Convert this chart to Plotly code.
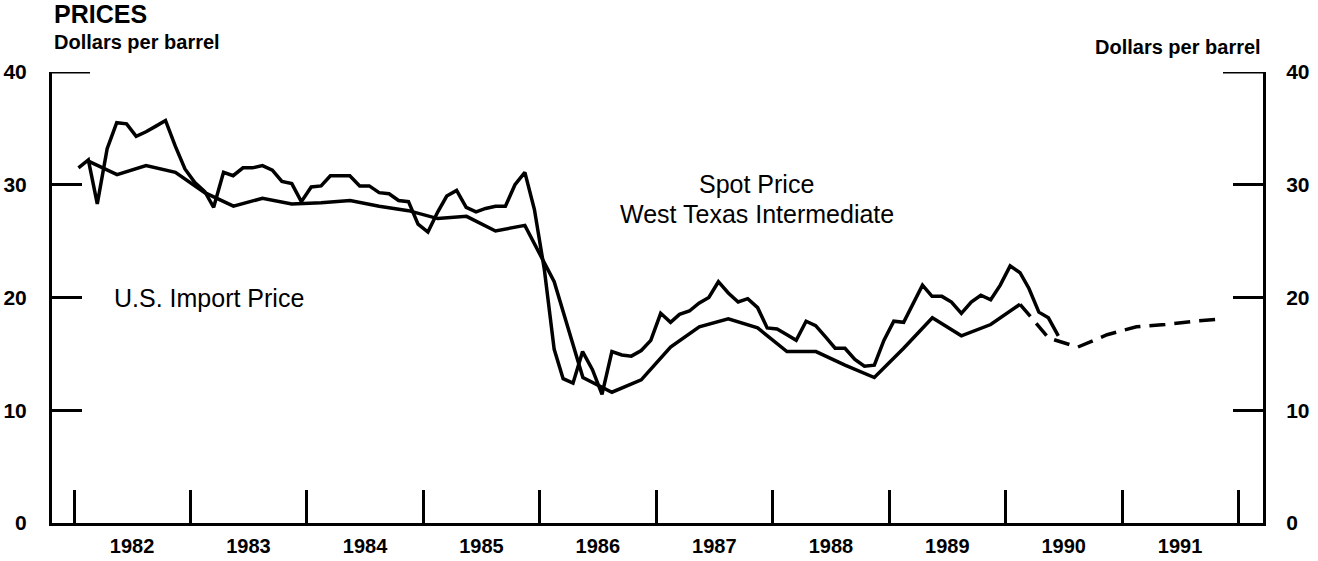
import pandas as pd
import plotly.graph_objects as go

# Monthly spot price, West Texas Intermediate, Jan 1982 - Jun 1990 (dollars per barrel)
spot_start = "1982-01"
spot_values = [
    31.5, 32.2, 28.3, 33.2, 35.5, 35.4, 34.3, 34.7, 35.2, 35.7, 33.4, 31.4,   # 1982
    30.2, 29.4, 28.0, 31.1, 30.8, 31.5, 31.5, 31.7, 31.3, 30.3, 30.1, 28.5,   # 1983
    29.8, 29.9, 30.8, 30.8, 30.8, 29.9, 29.9, 29.3, 29.2, 28.6, 28.5, 26.5,   # 1984
    25.8, 27.6, 29.0, 29.5, 28.0, 27.6, 27.9, 28.1, 28.1, 30.0, 31.1, 27.8,   # 1985
    22.5, 15.4, 12.8, 12.4, 15.2, 13.6, 11.4, 15.2, 14.9, 14.8, 15.3, 16.2,   # 1986
    18.6, 17.8, 18.5, 18.8, 19.5, 20.0, 21.4, 20.4, 19.6, 19.9, 19.1, 17.3,   # 1987
    17.2, 16.7, 16.2, 17.9, 17.5, 16.5, 15.5, 15.5, 14.5, 13.9, 14.0, 16.2,   # 1988
    17.9, 17.8, 19.3, 21.1, 20.1, 20.1, 19.6, 18.6, 19.6, 20.2, 19.8, 21.1,   # 1989
    22.8, 22.2, 20.8, 18.7, 18.2, 16.6,                                       # 1990
]

# Quarterly U.S. import price, 1982Q1 - 1990Q1
import_start = "1982Q1"
import_values = [
    32.1, 30.9, 31.7, 31.1,   # 1982
    29.3, 28.1, 28.8, 28.3,   # 1983
    28.4, 28.6, 28.1, 27.7,   # 1984
    27.0, 27.2, 25.9, 26.4,   # 1985
    21.4, 12.9, 11.6, 12.7,   # 1986
    15.6, 17.4, 18.1, 17.3,   # 1987
    15.2, 15.2, 14.0, 12.9,   # 1988
    15.5, 18.2, 16.6, 17.6,   # 1989
    19.4,                     # 1990
]

# Projected import price, 1990Q1 - 1991Q4
proj_start = "1990Q1"
proj_values = [19.4, 16.4, 15.6, 16.7, 17.4, 17.6, 17.9, 18.1]

years = list(range(1982, 1992))
year_labels = [str(y) for y in years]
y_ticks = [0, 10, 20, 30, 40]

# Monthly values sit at mid-month, quarterly values at mid-quarter
spot_dates = pd.period_range(spot_start, periods=len(spot_values), freq="M").to_timestamp(how="start") + pd.Timedelta(days=14)
import_dates = pd.period_range(import_start, periods=len(import_values), freq="Q").to_timestamp(how="start") + pd.Timedelta(days=45)
proj_dates = pd.period_range(proj_start, periods=len(proj_values), freq="Q").to_timestamp(how="start") + pd.Timedelta(days=45)

FONT = "Liberation Sans, Arial, Helvetica, sans-serif"
LW = 3.5

fig = go.Figure()
fig.add_trace(go.Scatter(x=spot_dates, y=spot_values, mode="lines",
                         line=dict(color="black", width=LW), name="Spot Price"))
fig.add_trace(go.Scatter(x=import_dates, y=import_values, mode="lines",
                         line=dict(color="black", width=LW), name="U.S. Import Price"))
fig.add_trace(go.Scatter(x=proj_dates, y=proj_values, mode="lines",
                         line=dict(color="black", width=LW, dash="16px,9px"), name="Projection"))
# anchor trace for the right-hand value axis
fig.add_trace(go.Scatter(x=[spot_dates[0]], y=[None], yaxis="y2", showlegend=False,
                         mode="lines", hoverinfo="skip"))

year_mid = [f"{y}-07-02" for y in years]
year_start = [f"{y}-01-01" for y in range(1982, 1993)]

tickfont = dict(family=FONT, size=21, color="black", weight="bold")
yaxis_common = dict(range=[0, 40], tickvals=y_ticks, ticks="inside", ticklen=30, tickwidth=3,
                    tickcolor="black", showline=True, linewidth=3, linecolor="black",
                    showgrid=False, zeroline=False, tickfont=tickfont, fixedrange=True,
                    automargin=False)

fig.update_layout(
    width=1318, height=561,
    margin=dict(l=52, r=55, t=72, b=38),
    paper_bgcolor="white", plot_bgcolor="white",
    showlegend=False,
    xaxis=dict(type="date", range=["1981-10-24", "1992-03-18"],
               tickvals=year_mid, ticktext=year_labels, ticks="",
               tickfont=dict(family=FONT, size=20, color="black", weight="bold"),
               ticklabelstandoff=3, automargin=False,
               showline=True, linewidth=3, linecolor="black",
               showgrid=False, zeroline=False,
               minor=dict(tickvals=year_start, ticks="inside", ticklen=33, tickwidth=2.5,
                          tickcolor="black", showgrid=False)),
    yaxis=dict(side="left", ticklabelstandoff=18, **yaxis_common),
    yaxis2=dict(side="right", overlaying="y", ticklabelstandoff=16, **yaxis_common),
)

# longer tick marks at the top of both value axes
fig.add_shape(type="line", xref="paper", yref="y", x0=0, x1=38 / 1211, y0=40, y1=40,
              line=dict(color="black", width=3))
fig.add_shape(type="line", xref="paper", yref="y", x0=1 - 40 / 1211, x1=1, y0=40, y1=40,
              line=dict(color="black", width=3))

label_font = dict(family=FONT, size=25, color="black")
fig.add_annotation(text="PRICES", xref="paper", yref="paper", x=0, y=1.128,
                   xanchor="left", yanchor="middle", showarrow=False,
                   font=dict(family=FONT, size=25, color="black", weight="bold"))
fig.add_annotation(text="Dollars per barrel", xref="paper", yref="paper", x=0, y=1.066,
                   xanchor="left", yanchor="middle", showarrow=False,
                   font=dict(family=FONT, size=20, color="black", weight="bold"))
fig.add_annotation(text="Dollars per barrel", xref="paper", yref="paper", x=1, y=1.055,
                   xanchor="right", yanchor="middle", showarrow=False,
                   font=dict(family=FONT, size=20, color="black", weight="bold"))
fig.add_annotation(text="Spot Price", x="1987-11-13", y=30.05, showarrow=False, borderpad=0,
                   xanchor="center", yanchor="middle", font=label_font)
fig.add_annotation(text="West Texas Intermediate", x="1987-11-13", y=27.45, showarrow=False,
                   borderpad=0, xanchor="center", yanchor="middle", font=label_font)
fig.add_annotation(text="U.S. Import Price", x="1982-05-01", y=20.0, showarrow=False,
                   xanchor="left", yanchor="middle", font=label_font)

fig.write_html("out.html")
